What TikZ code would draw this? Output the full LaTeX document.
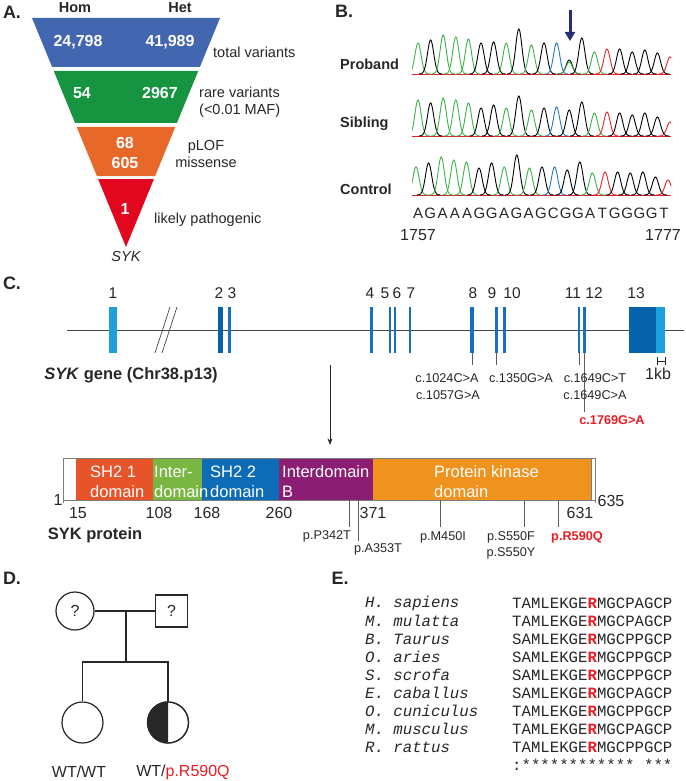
\documentclass[tikz,border=0pt]{standalone}
\usepackage{fontspec}
\setmainfont{Liberation Sans}
\setmonofont{Liberation Mono}
\usetikzlibrary{arrows.meta, positioning}
\definecolor{funnelBlue}{RGB}{66,102,176}
\definecolor{funnelGreen}{RGB}{22,148,64}
\definecolor{funnelOrange}{RGB}{232,104,42}
\definecolor{funnelRed}{RGB}{226,6,30}
\definecolor{traceGreen}{RGB}{60,178,74}
\definecolor{traceBlue}{RGB}{30,120,200}
\definecolor{traceRed}{RGB}{228,32,42}
\definecolor{arrowNavy}{RGB}{36,46,120}
\definecolor{exonLight}{RGB}{28,160,222}
\definecolor{exonDark}{RGB}{8,98,170}
\definecolor{exonMid}{RGB}{24,112,192}
\definecolor{domSHa}{RGB}{232,84,42}
\definecolor{domInter}{RGB}{122,182,66}
\definecolor{domSHb}{RGB}{14,108,182}
\definecolor{domInterB}{RGB}{139,30,114}
\definecolor{domKinase}{RGB}{240,146,30}
\definecolor{inkGrey}{RGB}{40,38,38}
\definecolor{mutRed}{RGB}{236,28,36}

\newcommand{\chromTrace}[3]{%
  \begin{scope}
    \clip (412,#1-50) rectangle (671,#1+2);
    \draw[traceRed, line width=0.8] (412,#1) -- (671,#1);
    \foreach \i/\h/\c in {#3}{%
      \pgfmathsetmacro{\cx}{#2+12.6*\i}
      \draw[\c, line width=0.9] plot[domain=\cx-12:\cx+12, samples=35, smooth]
        (\x,{#1-\h*exp(-((\x-\cx)/4.4)*((\x-\cx)/4.4))});
    }
  \end{scope}}

\begin{document}
\begin{tikzpicture}[x=1pt, y=-1pt, >=Stealth,
  every node/.style={inner sep=0pt, text=inkGrey},
  panel/.style={font=\fontsize{18}{20}\selectfont\bfseries},
  head/.style={font=\fontsize{14.5}{17}\selectfont\bfseries},
  lab/.style={font=\fontsize{14.5}{17}\selectfont},
  tally/.style={font=\fontsize{16}{19}\selectfont\bfseries, text=white},
  exnum/.style={font=\fontsize{15.5}{18}\selectfont},
  mut/.style={font=\fontsize{12.7}{16}\selectfont},
  dom/.style={font=\fontsize{16.5}{20}\selectfont, text=white, anchor=west, align=left},
  posnum/.style={font=\fontsize{16}{19}\selectfont},
  big/.style={font=\fontsize{16.5}{20}\selectfont\bfseries},
  aln/.style={font=\fontsize{15.7}{18}\selectfont\ttfamily, anchor=west},
  leader/.style={draw=inkGrey!75, line width=0.8},
  ped/.style={draw=inkGrey, line width=1.2}
]
  \useasboundingbox (0,0) rectangle (685,781);

  \foreach \yt/\yb/\col in {18/67/funnelBlue, 71/123/funnelGreen, 127/176/funnelOrange, 179/247/funnelRed}{
    \pgfmathsetmacro{\wt}{94/229*(247-\yt)}
    \pgfmathsetmacro{\wb}{94/229*(247-\yb)}
    \fill[\col] (126-\wt,\yt) -- (126+\wt,\yt) -- (126+\wb,\yb) -- (126-\wb,\yb) -- cycle;
  }
  \node[panel] (pA) at (12,12) {A.};
  \node[head] (hom) at (75,8) {Hom};
  \node[head] (het) at (180,8) {Het};
  \node[tally] (homAll) at (78,42) {24,798};
  \node[tally] (hetAll) at (170,42) {41,989};
  \node[tally] (homRare) at (82,93) {54};
  \node[tally] (hetRare) at (160,93) {2967};
  \node[tally] (plofN) at (125,143) {68};
  \node[tally] (misN) at (125,163) {605};
  \node[tally] (pathN) at (125,209) {1};
  \node[lab, anchor=west] (total) at (213,52) {total variants};
  \node[lab, anchor=west, align=left] (rare) at (199,102) {rare variants\\(<0.01 MAF)};
  \node[lab, align=center] (plof) at (206,154) {pLOF\\missense};
  \node[lab, anchor=west] (likely) at (154,220) {likely pathogenic};
  \node[lab, font=\fontsize{14.5}{17}\selectfont\itshape] (sykA) at (126,257) {SYK};

  \node[panel] (pB) at (344,11) {B.};
  \node[head, anchor=west] (proband) at (340,64) {Proband};
  \node[head, anchor=west] (sibling) at (340,124) {Sibling};
  \node[head, anchor=west] (control) at (340,189) {Control};
  \chromTrace{74}{418}{0/31/traceGreen, 1/34/black, 2/39/traceGreen, 3/37/traceGreen, 4/35/traceGreen, 5/31/black, 6/32/black, 7/31/traceGreen, 8/45/black, 9/29/traceGreen, 10/31/black, 11/31/traceBlue, 12/14/black, 12/12/traceGreen, 13/36/black, 14/22/traceGreen, 15/25/traceRed, 16/25/black, 17/22/black, 18/24/black, 19/21/black, 20/17/traceRed}
  \chromTrace{136}{418}{0/36/traceGreen, 1/33/black, 2/38/traceGreen, 3/36/traceGreen, 4/33/traceGreen, 5/28/black, 6/31/black, 7/28/traceGreen, 8/40/black, 9/26/traceGreen, 10/28/black, 11/29/traceBlue, 12/26/black, 13/34/black, 14/23/traceGreen, 15/24/traceRed, 16/23/black, 17/21/black, 18/23/black, 19/19/black, 20/14/traceRed}
  \chromTrace{195}{416}{0/28/traceGreen, 1/32/black, 2/38/traceGreen, 3/35/traceGreen, 4/33/traceGreen, 5/27/black, 6/32/black, 7/28/traceGreen, 8/40/black, 9/27/traceGreen, 10/28/black, 11/28/traceBlue, 12/25/black, 13/33/black, 14/22/traceGreen, 15/23/traceRed, 16/23/black, 17/22/black, 18/23/black, 19/18/black, 20/15/traceRed}
  \coordinate (mutTop) at (570,10);
  \coordinate (mutTip) at (570,41);
  \draw[-{Triangle[width=10pt,length=9pt]}, line width=3pt, arrowNavy] (mutTop) -- (mutTip);
  \foreach \b [count=\i from 0] in {A,G,A,A,A,G,G,A,G,A,G,C,G,G,A,T,G,G,G,G,T}
    \node[lab, font=\fontsize{15}{18}\selectfont] (base\i) at ({418+12.3*\i},213) {\b};
  \node[posnum] (startB) at (418,235) {1757};
  \node[posnum] (endB) at (663,235) {1777};

  \node[panel] (pC) at (12,283) {C.};
  \draw[inkGrey!85, line width=0.9] (67,330) -- (684,330);
  \draw[inkGrey!85, line width=0.7] (155,353) -- (170,307) (162,353) -- (177,307);
  \foreach \xa/\w/\col in {109/8/exonLight, 218/5/exonDark, 228/3/exonMid, 370/2.5/exonMid, 389/2/exonMid, 394/2/exonMid, 409/2/exonMid, 470/3.5/exonMid, 495/2.5/exonMid, 503/2.5/exonMid, 578/2/exonMid, 583/2.5/exonMid, 629/27/exonDark, 656/9/exonLight}
    \fill[\col] (\xa,307) rectangle ++(\w,46);
  \foreach \n/\xn in {1/113, 2/219, 3/232, 4/370, 5/385, 6/397, 7/411, 8/473, 9/492, 10/512, 11/573, 12/594, 13/636}
    \node[exnum] (ex\n) at (\xn,293) {\n};
  \draw[leader] (472,353) -- (472,365) (496,353) -- (496,365) (579,353) -- (579,365) (584.5,353) -- (584.5,412);
  \node[mut] (c1024) at (447,378) {c.1024C>A};
  \node[mut] (c1057) at (448,395) {c.1057G>A};
  \node[mut] (c1350) at (521,378) {c.1350G>A};
  \node[mut] (c1649t) at (595,378) {c.1649C>T};
  \node[mut] (c1649a) at (595,395) {c.1649C>A};
  \node[mut, font=\fontsize{12.7}{16}\selectfont\bfseries, text=mutRed] (c1769) at (612,420) {c.1769G>A};
  \draw[inkGrey, line width=0.7] (657,357) -- (657,365) (657,361) -- (665,361) (665,357) -- (665,365);
  \node[posnum] (kb) at (658,374) {1kb};
  \node[big] (gene) at (131,375) {\textit{SYK} gene (Chr38.p13)};
  \coordinate (geneArrow) at (330,365);
  \coordinate (protArrow) at (330,445);
  \draw[->, inkGrey, line width=0.8] (geneArrow) -- (protArrow);

  \foreach \xa/\xb/\col in {76/153/domSHa, 153/202/domInter, 202/279/domSHb, 279/373/domInterB, 373/591/domKinase}
    \fill[\col] (\xa,458) rectangle (\xb,500);
  \draw[inkGrey!60, line width=0.8] (63,458) rectangle (595,500) (63,500) -- (63,503) (595,500) -- (595,503);
  \draw[inkGrey!60, line width=0.5] (591,458) -- (591,500);
  \node[dom] (sh2a) at (90,482) {SH2 1\\domain};
  \node[dom] (inter) at (154,482) {Inter-\\domain};
  \node[dom] (sh2b) at (210,482) {SH2 2\\domain};
  \node[dom] (interB) at (282,482) {Interdomain\\B};
  \node[dom] (kinase) at (434,482) {Protein kinase\\domain};
  \node[posnum] (aa1) at (58,500) {1};
  \foreach \p/\xp in {15/78, 108/159, 168/207, 260/279, 371/373, 631/580}
    \node[posnum] (aa\p) at (\xp,513) {\p};
  \node[posnum] (aa635) at (611,501) {635};
  \node[big] (protein) at (95,535) {SYK protein};
  \draw[leader] (349,500) -- (349,527) (358,500) -- (358,541) (440,500) -- (440,527) (524,500) -- (524,527) (558,500) -- (558,527);
  \node[mut] (p342) at (327,536) {p.P342T};
  \node[mut] (p353) at (378,549) {p.A353T};
  \node[mut] (p450) at (443,537) {p.M450I};
  \node[mut, align=center] (p550) at (511,545) {p.S550F\\p.S550Y};
  \node[mut, font=\fontsize{12.7}{16}\selectfont\bfseries, text=mutRed] (p590) at (577,537) {p.R590Q};

  \node[panel] (pD) at (12,578) {D.};
  \node[ped, circle, minimum size=38pt, font=\fontsize{16}{19}\selectfont] (mother) at (75,611) {?};
  \node[ped, rectangle, minimum size=32pt, font=\fontsize{16}{19}\selectfont] (father) at (171.5,611) {?};
  \node[ped, circle, minimum size=41pt] (sister) at (82.5,722.5) {};
  \node[ped, circle, minimum size=41pt] (proband2) at (168,722.5) {};
  \fill[inkGrey] (proband2.center) -- (proband2.north) arc[start angle=90, end angle=270, radius=20.5pt] -- cycle;
  \draw[ped] (proband2.center) circle[radius=20.5pt];
  \coordinate (union) at (126,611);
  \coordinate (sibship) at (126,662);
  \draw[ped] (mother) -- (father);
  \draw[ped] (union) -- (sibship);
  \draw[ped] (sister.north) -- (sister.north |- sibship) -- (proband2.north |- sibship) -- (proband2.north);
  \node[posnum] (wtwt) at (79,772) {WT/WT};
  \node[posnum] (wtmut) at (183,772) {WT/\textcolor{mutRed}{p.R590Q}};

  \node[panel] (pE) at (340,578) {E.};
  \foreach \sp/\pre/\post [count=\i from 0] in {H. sapiens/TAMLEKGE/MGCPAGCP, M. mulatta/TAMLEKGE/MGCPAGCP, B. Taurus/SAMLEKGE/MGCPPGCP, O. aries/SAMLEKGE/MGCPPGCP, S. scrofa/SAMLEKGE/MGCPPGCP, E. caballus/SAMLEKGE/MGCPAGCP, O. cuniculus/TAMLEKGE/MGCPPGCP, M. musculus/TAMLEKGE/MGCPAGCP, R. rattus/TAMLEKGE/MGCPPGCP}{
    \node[aln, font=\fontsize{15.7}{18}\selectfont\ttfamily\itshape] (sp\i) at (365,{603+18*\i}) {\sp};
    \node[aln] (sq\i) at (512,{603+18*\i}) {\pre\textbf{\textcolor{mutRed}{R}}\post};
  }
  \node[aln] (cons) at (512,765) {:************ ***};
\end{tikzpicture}
\end{document}
